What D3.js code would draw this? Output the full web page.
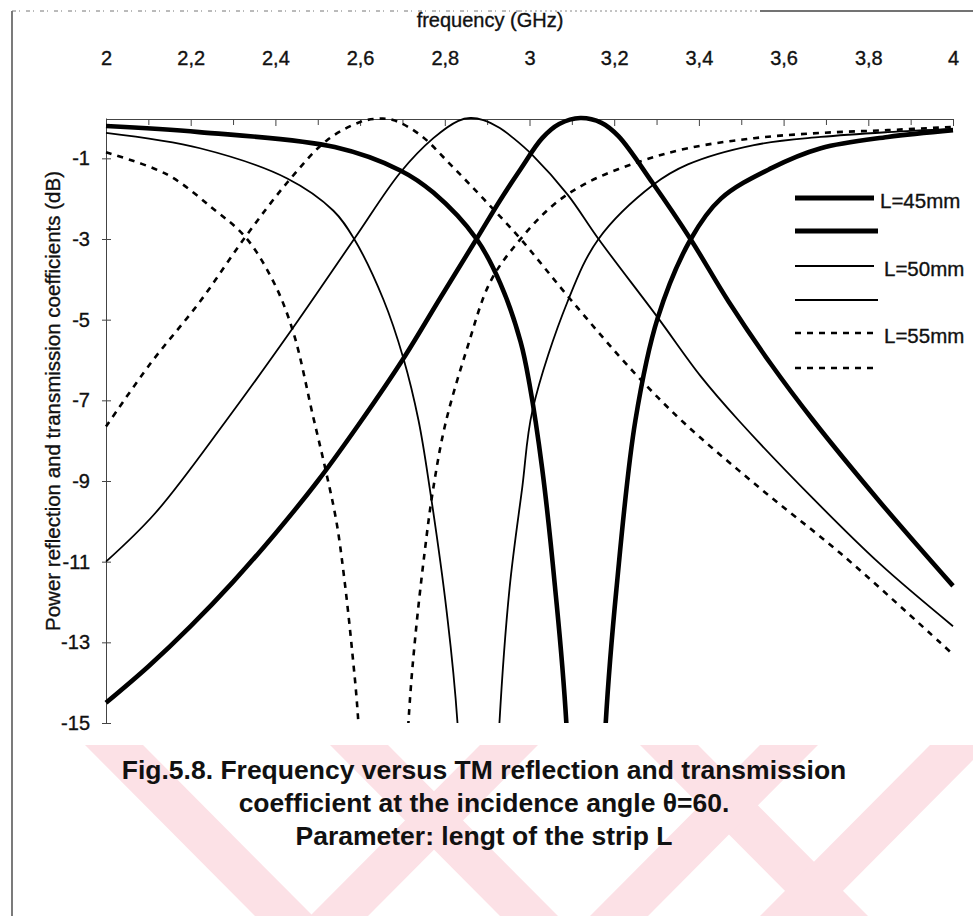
<!DOCTYPE html>
<html>
<head>
<meta charset="utf-8">
<script src="https://cdn.jsdelivr.net/npm/d3@7"></script>
<style>
  body { margin: 0; background: #fff; }
  svg { display: block; }
  text { font-family: "Liberation Sans", Arial, sans-serif; fill: #111; }
  .scan { stroke: #111; stroke-width: 0.35; }
</style>
</head>
<body>
<svg id="chart"></svg>
<script>
var width = 973, height = 916;

// axis ticks
var xMajor = [2, 2.2, 2.4, 2.6, 2.8, 3, 3.2, 3.4, 3.6, 3.8, 4];
var xMinor = [2.1, 2.3, 2.5, 2.7, 2.9, 3.1, 3.3, 3.5, 3.7, 3.9];
var yTicks = [-1, -3, -5, -7, -9, -11, -13, -15];

// [frequency GHz, dB]
var r45 = [[2.00,-14.5],[2.10,-13.6],[2.20,-12.6],[2.30,-11.5],[2.40,-10.3],[2.50,-9.0],[2.60,-7.55],[2.70,-6.0],[2.79,-4.45],[2.875,-3.0],[2.93,-2.05],[2.98,-1.25],[3.03,-0.5],[3.07,-0.15],[3.12,0],[3.17,-0.12],[3.21,-0.45],[3.29,-1.6],[3.38,-3.0],[3.47,-4.55],[3.57,-6.1],[3.67,-7.5],[3.83,-9.55],[4.00,-11.6]];
var t45 = [[2.00,-0.2],[2.22,-0.35],[2.54,-0.72],[2.695,-1.3],[2.773,-1.85],[2.875,-3.0],[2.931,-4.1],[2.979,-5.55],[3.00,-6.6],[3.03,-8.7],[3.06,-11.6],[3.087,-15],[3.133,-28],[3.18,-15],[3.206,-11.6],[3.25,-7.5],[3.303,-4.95],[3.381,-3.0],[3.452,-2.0],[3.57,-1.25],[3.688,-0.75],[3.846,-0.47],[4.00,-0.3]];
var r50 = [[2.00,-11.0],[2.116,-9.8],[2.284,-7.5],[2.435,-5.3],[2.586,-3.0],[2.695,-1.35],[2.773,-0.5],[2.832,-0.07],[2.86,0],[2.891,-0.05],[2.93,-0.25],[2.962,-0.5],[3.007,-0.92],[3.09,-1.9],[3.163,-3.0],[3.303,-4.95],[3.404,-6.4],[3.494,-7.5],[3.671,-9.45],[3.827,-11.05],[4.00,-12.6]];
var t50 = [[2.00,-0.37],[2.222,-0.75],[2.428,-1.5],[2.537,-2.3],[2.586,-3.0],[2.655,-4.5],[2.702,-5.95],[2.738,-7.5],[2.764,-9.15],[2.804,-12.2],[2.83,-15],[2.88,-28],[2.929,-15],[2.953,-11.65],[2.983,-9.15],[3.007,-7.25],[3.09,-4.55],[3.163,-3.0],[3.293,-1.65],[3.374,-1.15],[3.53,-0.67],[3.688,-0.47],[3.846,-0.35],[4.00,-0.27]];
var r55 = [[2.00,-7.65],[2.104,-6.1],[2.222,-4.55],[2.329,-2.95],[2.428,-1.6],[2.522,-0.55],[2.60,-0.1],[2.64,-0.02],[2.678,-0.05],[2.742,-0.42],[2.813,-1.15],[2.891,-2.0],[2.979,-3.0],[3.097,-4.5],[3.246,-6.3],[3.364,-7.55],[3.541,-9.15],[3.735,-10.8],[3.969,-13.0],[4.00,-13.3]];
var t55 = [[2.00,-0.85],[2.144,-1.4],[2.253,-2.25],[2.329,-2.95],[2.395,-4.05],[2.442,-5.3],[2.489,-7.4],[2.518,-8.7],[2.544,-10.0],[2.563,-11.45],[2.582,-13.3],[2.596,-15],[2.655,-28],[2.714,-15],[2.73,-12.9],[2.752,-10.8],[2.771,-9.3],[2.801,-7.6],[2.853,-5.7],[2.908,-4.05],[2.979,-3.0],[3.057,-2.15],[3.137,-1.6],[3.255,-1.1],[3.374,-0.75],[3.53,-0.5],[3.688,-0.37],[3.846,-0.3],[4.00,-0.22]];

var legendLabels = ["L=45mm", "", "L=50mm", "", "L=55mm", ""];
var titleLines = [
    "Fig.5.8. Frequency versus TM reflection and transmission",
    "coefficient at the incidence angle \u03b8=60.",
    "Parameter: lengt of the strip L"
];

var svg = d3.select('#chart')
    .attr('width', width)
    .attr('height', height);

// pink watermark stripes behind the caption
var stripes = [[85, 1], [330, 1], [480, -1], [640, 1], [760, -1], [930, -1]];
svg.append("g").selectAll("polygon")
    .data(stripes)
    .enter()
    .append("polygon")
        .attr("fill", "#fce1e6")
        .attr("points", d => {
            var x0 = d[0], w = 58, run = 170 * d[1];
            return [[x0, 745], [x0 + w, 745], [x0 + w + run, 916], [x0 + run, 916]].join(" ");
        });

// scanned page frame
svg.append("line")
    .attr("x1", 12).attr("y1", 11).attr("x2", 12).attr("y2", 916)
    .attr("stroke", "#333").attr("stroke-width", 1.3);
svg.append("line")
    .attr("x1", 12).attr("y1", 11).attr("x2", 520).attr("y2", 11)
    .attr("stroke", "#777").attr("stroke-width", 1)
    .attr("stroke-dasharray", "4,3,1,6");
svg.append("line")
    .attr("x1", 520).attr("y1", 11).attr("x2", 760).attr("y2", 11)
    .attr("stroke", "#888").attr("stroke-width", 1)
    .attr("stroke-dasharray", "2,3");
svg.append("line")
    .attr("x1", 760).attr("y1", 11).attr("x2", 973).attr("y2", 11)
    .attr("stroke", "#444").attr("stroke-width", 1.3);

var x = d3.scaleLinear().domain([2, 4]).range([106, 953]);
var y = d3.scaleLinear().domain([0, -15]).range([118, 723]);

// top frequency axis
var fmt = d => String(+d.toFixed(1)).replace(".", ",");
svg.append("g")
    .attr("transform", "translate(0,119)")
    .call(d3.axisTop(x).tickValues(xMinor).tickSize(-6).tickFormat(""))
    .call(g => g.select(".domain").remove())
    .selectAll("line").attr("stroke", "#444");
svg.append("g")
    .attr("transform", "translate(0,119)")
    .call(d3.axisTop(x).tickValues(xMajor).tickSize(-7).tickSizeOuter(0).tickPadding(54).tickFormat(fmt))
    .call(g => g.selectAll("text").attr("font-size", 20).attr("fill", "#111").classed("scan", true))
    .call(g => g.select(".domain").attr("stroke", "#444"))
    .call(g => g.selectAll("line").attr("stroke", "#444"));

svg.append("text")
    .attr("x", 490).attr("y", 27)
    .attr("font-size", 20)
    .classed("scan", true)
    .style("text-anchor", "middle")
    .text("frequency (GHz)");

// left dB axis
svg.append("g")
    .attr("transform", "translate(106,0)")
    .call(d3.axisLeft(y).tickValues(yTicks).tickSize(5).tickSizeOuter(0).tickPadding(11).tickFormat(d => d))
    .call(g => g.selectAll("text").attr("font-size", 20).attr("fill", "#111").classed("scan", true))
    .call(g => g.select(".domain").attr("stroke", "#444"))
    .call(g => g.selectAll(".tick line").attr("x2", -4).attr("x1", 5).attr("stroke", "#444"));

svg.append("text")
    .attr("transform", "translate(60,401) rotate(-90)")
    .attr("font-size", 20.5)
    .classed("scan", true)
    .style("text-anchor", "middle")
    .text("Power reflection and transmission coefficients (dB)");

// curves
svg.append("clipPath").attr("id", "plot-clip")
    .append("rect").attr("x", 100).attr("y", 100).attr("width", 870).attr("height", 623);

var styles = [
    {w: 4.6, dash: null}, {w: 4.6, dash: null},
    {w: 1.8, dash: null}, {w: 1.8, dash: null},
    {w: 2.6, dash: "6,6"}, {w: 2.6, dash: "6,6"}
];
var curves = [r45, t45, r50, t50, r55, t55];

var line = d3.line()
    .x(d => x(d[0]))
    .y(d => y(d[1]))
    .curve(d3.curveCatmullRom.alpha(0.5));

svg.append("g")
    .attr("clip-path", "url(#plot-clip)")
    .selectAll("path")
    .data(curves)
    .enter()
    .append("path")
        .attr("d", line)
        .attr("fill", "none")
        .attr("stroke", "#000")
        .attr("stroke-width", (d, i) => styles[i].w)
        .attr("stroke-dasharray", (d, i) => styles[i].dash)
        .attr("stroke-linejoin", "round");

// legend
var legendY = [198, 231, 266, 300, 333, 368];
var leg = svg.append("g");
legendLabels.forEach((lab, i) => {
    leg.append("line")
        .attr("x1", 795).attr("x2", lab ? 874 : 878)
        .attr("y1", legendY[i]).attr("y2", legendY[i])
        .attr("stroke", "#000")
        .attr("stroke-width", styles[i].w + (i < 2 ? 0.6 : 0))
        .attr("stroke-dasharray", styles[i].dash);
    if (lab) {
        leg.append("text")
            .attr("x", i == 0 ? 880 : 884)
            .attr("y", legendY[i] + 10)
            .attr("font-size", 20.5)
            .classed("scan", true)
            .text(lab);
    }
});

// caption
svg.append("g").selectAll("text")
    .data(titleLines)
    .enter()
    .append("text")
        .attr("x", 484)
        .attr("y", (d, i) => 779 + i * 33)
        .attr("font-size", 26.5)
        .attr("font-weight", "bold")
        .style("text-anchor", "middle")
        .text(d => d);
</script>
</body>
</html>
